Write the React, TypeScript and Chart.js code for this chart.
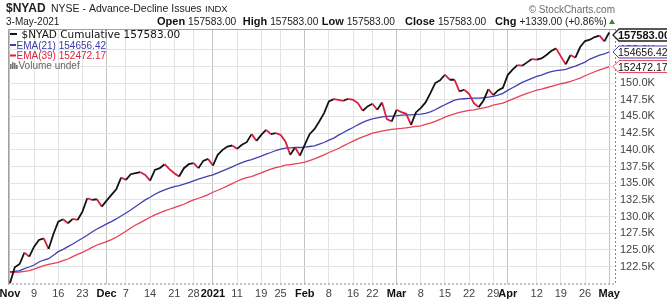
import React, { useEffect, useRef } from "react";
import { Chart, registerables } from "chart.js";
Chart.register(...registerables);

// $NYAD cumulative (thousands), trading days 2-Nov-2020 .. 3-May-2021
const nyad = [
  120.0, 122.4, 122.9, 124.6, 124.0, 125.5, 126.5, 126.75, 125.15, 127.4,
  129.25, 129.6, 129.0, 129.65, 129.5, 130.75, 132.75, 132.5, 132.6, 131.5,
  132.4, 133.25, 134.1, 135.85, 135.5, 136.35, 136.5, 136.65, 136.25, 135.4,
  137.0, 137.25, 137.85, 137.1, 136.5, 136.0, 137.25, 137.85, 138.0, 137.25,
  138.35, 138.65, 137.65, 139.25, 140.0, 140.5, 140.65, 140.15, 140.75, 141.15,
  142.35, 141.35, 142.25, 143.0, 142.35, 142.5, 142.25, 141.25, 139.25, 140.35,
  139.15, 140.75, 142.35, 143.1, 144.25, 145.5, 147.25, 147.6, 147.5, 147.35,
  147.65, 147.5, 147.0, 145.85, 146.5, 146.9, 146.0, 147.1, 144.6, 144.25,
  146.0, 145.65, 145.4, 143.75, 145.6, 146.25, 147.1, 148.5, 150.0, 150.4,
  151.25, 150.5, 150.5, 148.75, 149.0, 148.4, 147.0, 146.4, 147.4, 149.1,
  148.2, 148.9, 149.3, 151.2, 152.0, 152.7, 152.6, 153.1, 153.6, 153.5,
  153.7, 154.2, 154.8, 155.2, 154.0, 152.8, 154.2, 153.8, 155.4, 156.3,
  156.5, 156.9, 157.1, 156.244, 157.583,
];

const ema21 = [
  121.75, 121.8, 121.9, 122.2, 122.45, 122.75, 123.2, 123.5, 123.7, 124.2,
  124.75, 125.1, 125.5, 125.9, 126.35, 126.75, 127.2, 127.7, 128.15, 128.5,
  128.9, 129.25, 129.65, 130.1, 130.55, 131.0, 131.5, 132.0, 132.5, 132.9,
  133.35, 133.7, 134.0, 134.25, 134.5, 134.65, 134.85, 135.1, 135.35, 135.6,
  135.85, 136.05, 136.25, 136.55, 136.85, 137.15, 137.45, 137.8, 138.1, 138.35,
  138.55, 138.8, 139.05, 139.35, 139.6, 139.9, 140.1, 140.25, 140.3, 140.35,
  140.35, 140.4, 140.5, 140.6, 140.85, 141.1, 141.45, 141.75, 142.2, 142.6,
  143.0, 143.35, 143.75, 144.1, 144.4, 144.65, 144.8, 144.95, 145.0, 145.05,
  145.1, 145.2, 145.25, 145.25, 145.3, 145.35, 145.45, 145.7, 146.0, 146.4,
  146.75, 147.1, 147.45, 147.6, 147.65, 147.7, 147.75, 147.75, 147.8, 147.9,
  148.0, 148.2, 148.45, 148.9, 149.3, 149.7, 150.1, 150.4, 150.7, 151.0,
  151.2, 151.5, 151.7, 151.85, 151.95, 152.05, 152.3, 152.55, 152.85, 153.15,
  153.6, 153.9, 154.18, 154.36, 154.656,
];

const ema39 = [
  121.6, 121.65, 121.7, 121.8, 121.9, 122.15, 122.4, 122.65, 122.85, 123.0,
  123.15, 123.4, 123.65, 124.0, 124.35, 124.65, 125.0, 125.4, 125.75, 126.0,
  126.25, 126.55, 126.9, 127.35, 127.8, 128.3, 128.75, 129.1, 129.5, 129.9,
  130.25, 130.55, 130.85, 131.1, 131.35, 131.6, 131.85, 132.2, 132.5, 132.75,
  133.0, 133.3, 133.65, 133.95, 134.25, 134.6, 134.95, 135.3, 135.6, 135.85,
  136.0, 136.3, 136.55, 136.85, 137.1, 137.35, 137.5, 137.7, 137.8, 137.9,
  138.0, 138.15, 138.4, 138.65, 138.95, 139.25, 139.6, 139.9, 140.2, 140.6,
  140.95, 141.3, 141.65, 141.95, 142.2, 142.5, 142.65, 142.8, 142.95, 143.05,
  143.15, 143.2, 143.3, 143.4, 143.5, 143.6, 143.8, 144.0, 144.25, 144.55,
  144.9, 145.15, 145.4, 145.6, 145.75, 145.9, 146.0, 146.15, 146.3, 146.45,
  146.7, 146.85, 147.0, 147.3, 147.6, 147.9, 148.2, 148.45, 148.7, 148.95,
  149.1, 149.3, 149.5, 149.7, 149.9, 150.05, 150.25, 150.5, 150.75, 151.1,
  151.4, 151.7, 151.99, 152.2, 152.472,
];

const xTickIndex = [0, 5, 10, 15, 20, 24, 29, 34, 38, 42, 47, 52, 56, 61, 66, 71, 75, 80, 85, 90, 95, 100, 103, 109, 114, 119, 124];
const xTickLabels = ["Nov", "9", "16", "23", "Dec", "7", "14", "21", "28", "2021", "11", "19", "25", "Feb", "8", "16", "22", "Mar", "8", "15", "22", "29", "Apr", "12", "19", "26", "May"];
const monthLabels = ["Nov", "Dec", "2021", "Feb", "Mar", "Apr", "May"];
const yTickValues = [122.5, 125, 127.5, 130, 132.5, 135, 137.5, 140, 142.5, 145, 147.5, 150, 152.5, 155];

const titleSymbol = "$NYAD";
const titleName = "NYSE - Advance-Decline Issues";
const titleExchange = "INDX";
const dateText = "3-May-2021";
const quoteLabels = ["Open", "High", "Low", "Close", "Chg"];
const quoteValues = ["157583.00", "157583.00", "157583.00", "157583.00", "+1339.00 (+0.86%)"];
const legendMain = "$NYAD Cumulative 157583.00";
const legendEma21 = "EMA(21) 154656.42";
const legendEma39 = "EMA(39) 152472.17";
const legendVolume = "Volume undef";
const badgeTexts = ["157583.00", "154656.42", "152472.17"];

const SANS = "Arial, 'Liberation Sans', sans-serif";
const BLACK = "#141414";
const DOWN_RED = "#dc1e3c";
const BLUE = "#4040b0";
const EMA_RED = "#e6405a";

const isMonth = (i: number) => monthLabels.includes(xTickLabels[i]);

const overlayPlugin = {
  id: "overlay",
  afterDraw(chart: any) {
    const { ctx, chartArea: a, scales } = chart;
    ctx.save();
    // plot frame
    ctx.lineWidth = 1;
    ctx.strokeStyle = "#a0a0a0";
    ctx.beginPath();
    ctx.moveTo(a.left + 0.5, a.bottom);
    ctx.lineTo(a.left + 0.5, a.top + 0.5);
    ctx.lineTo(a.right, a.top + 0.5);
    ctx.stroke();
    ctx.setLineDash([2, 2]);
    ctx.strokeStyle = "#888";
    ctx.beginPath();
    ctx.moveTo(a.right + 0.5, a.top);
    ctx.lineTo(a.right + 0.5, a.bottom);
    ctx.moveTo(a.left, a.bottom + 0.5);
    ctx.lineTo(a.right, a.bottom + 0.5);
    ctx.stroke();
    ctx.setLineDash([]);

    const txt = (s: string, x: number, y: number, font: string, color: string, align: CanvasTextAlign = "left") => {
      ctx.font = font;
      ctx.fillStyle = color;
      ctx.textAlign = align;
      ctx.textBaseline = "alphabetic";
      ctx.fillText(s, x, y);
      return ctx.measureText(s).width;
    };

    // header line 1
    txt(titleSymbol, 6, 12, `bold 12px ${SANS}`, "#222");
    txt(titleName, 51, 12, `10.5px ${SANS}`, "#222");
    txt(titleExchange, 205, 12, `9.5px ${SANS}`, "#222");
    txt("\u00A9 StockCharts.com", 615, 13, `10px ${SANS}`, "#6a6a6a", "right");

    // header line 2
    txt(dateText, 6, 25, `10px ${SANS}`, "#222");
    const labelX = [157, 242.7, 321.7, 405, 495];
    quoteLabels.forEach((l, i) => {
      const w = txt(l, labelX[i], 25, `bold 11px ${SANS}`, "#111");
      txt(quoteValues[i], labelX[i] + w + 3, 25, `10.2px ${SANS}`, "#222");
    });
    ctx.fillStyle = "#2e8b2e";
    ctx.beginPath();
    ctx.moveTo(609, 24);
    ctx.lineTo(615, 24);
    ctx.lineTo(612, 19);
    ctx.closePath();
    ctx.fill();

    // legend
    ctx.fillStyle = BLACK;
    ctx.fillRect(10, 33, 7, 2);
    txt(legendMain, 21.5, 38, `10.5px 'DejaVu Sans', Verdana, sans-serif`, "#111");
    ctx.fillStyle = BLUE;
    ctx.fillRect(10, 44, 6, 2);
    txt(legendEma21, 16.5, 48.5, `10px ${SANS}`, "#3a3aa8");
    ctx.fillStyle = DOWN_RED;
    ctx.fillRect(10, 54.5, 6, 2);
    txt(legendEma39, 16.5, 59, `10px ${SANS}`, DOWN_RED);
    ctx.fillStyle = "#777";
    ctx.fillRect(10, 64, 1.6, 5);
    ctx.fillRect(12, 62, 1.6, 7);
    ctx.fillRect(14, 63, 1.6, 6);
    ctx.fillRect(16, 65, 1.6, 4);
    txt(legendVolume, 18.5, 69, `10px ${SANS}`, "#666");

    // right-hand value badges
    const y = scales.y;
    const vals = [nyad[nyad.length - 1], ema21[ema21.length - 1], ema39[ema39.length - 1]];
    const colors = ["#222", BLUE, EMA_RED];
    vals.forEach((v, i) => {
      let py = y.getPixelForValue(v);
      if (py < a.top + 6) py = a.top + 6;
      const x0 = a.right - 2;
      ctx.beginPath();
      ctx.moveTo(x0, py);
      ctx.lineTo(x0 + 6, py - 6);
      ctx.lineTo(668, py - 6);
      ctx.lineTo(668, py + 6);
      ctx.lineTo(x0 + 6, py + 6);
      ctx.closePath();
      ctx.fillStyle = "#fff";
      ctx.fill();
      ctx.lineWidth = i === 0 ? 1.3 : 1;
      ctx.strokeStyle = colors[i];
      ctx.stroke();
      txt(badgeTexts[i], x0 + 5, py + 4, i === 0 ? `bold 11px ${SANS}` : `10.5px ${SANS}`, "#111");
    });
    ctx.restore();
  },
};

export default function App() {
  const ref = useRef<HTMLCanvasElement>(null);
  useEffect(() => {
    if (!ref.current) return;
    const chart = new Chart(ref.current, {
      type: "line",
      data: {
        datasets: [
          {
            label: "$NYAD Cumulative",
            data: nyad.map((v, i) => ({ x: i, y: v })),
            borderColor: BLACK,
            borderWidth: 1.8,
            pointRadius: 0,
            tension: 0,
            order: 0,
            segment: {
              borderColor: (c: any) => (c.p1.parsed.y < c.p0.parsed.y ? DOWN_RED : BLACK),
            },
          },
          {
            label: "EMA(21)",
            data: ema21.map((v, i) => ({ x: i, y: v })),
            borderColor: BLUE,
            borderWidth: 1.3,
            pointRadius: 0,
            order: 1,
          },
          {
            label: "EMA(39)",
            data: ema39.map((v, i) => ({ x: i, y: v })),
            borderColor: EMA_RED,
            borderWidth: 1.3,
            pointRadius: 0,
            order: 2,
          },
        ],
      },
      options: {
        animation: false,
        responsive: false,
        devicePixelRatio: 1,
        layout: { padding: { left: 8, top: 29, right: 0, bottom: 0 } },
        plugins: { legend: { display: false }, tooltip: { enabled: false } },
        scales: {
          x: {
            type: "linear",
            min: -0.4,
            max: 125.2,
            afterBuildTicks: (s: any) => {
              s.ticks = xTickIndex.map((v) => ({ value: v }));
            },
            afterFit: (s: any) => {
              s.height = 16.5;
              s.paddingLeft = 0;
              s.paddingRight = 0;
            },
            border: { display: false },
            grid: {
              drawTicks: false,
              color: (c: any) => (isMonth(c.index) ? "#c2c2c2" : "#e3e3e3"),
              lineWidth: 1,
            },
            ticks: {
              autoSkip: false,
              maxRotation: 0,
              minRotation: 0,
              padding: 4,
              callback: (_v: any, i: number) => xTickLabels[i],
              font: (c: any) => ({ family: SANS, size: 11, weight: isMonth(c.index) ? "bold" : "normal" }),
              color: (c: any) => (isMonth(c.index) ? "#111" : "#444"),
            },
          },
          y: {
            position: "right",
            min: 119.98,
            max: 158.1,
            afterBuildTicks: (s: any) => {
              s.ticks = yTickValues.map((v) => ({ value: v }));
            },
            afterFit: (s: any) => {
              s.width = 52;
              s.paddingTop = 0;
              s.paddingBottom = 0;
            },
            border: { display: false },
            grid: { drawTicks: false, color: "#e3e3e3", lineWidth: 1 },
            ticks: {
              padding: 5,
              font: { family: SANS, size: 11 },
              color: "#444",
              callback: (v: any) => Number(v).toFixed(1) + "K",
            },
          },
        },
      },
      plugins: [overlayPlugin],
    } as any);
    return () => chart.destroy();
  }, []);
  return (
    <div style={{ position: "absolute", left: 0, top: 0, width: 667, height: 300, background: "#fff" }}>
      <canvas ref={ref} width={667} height={300} style={{ display: "block" }} />
    </div>
  );
}
